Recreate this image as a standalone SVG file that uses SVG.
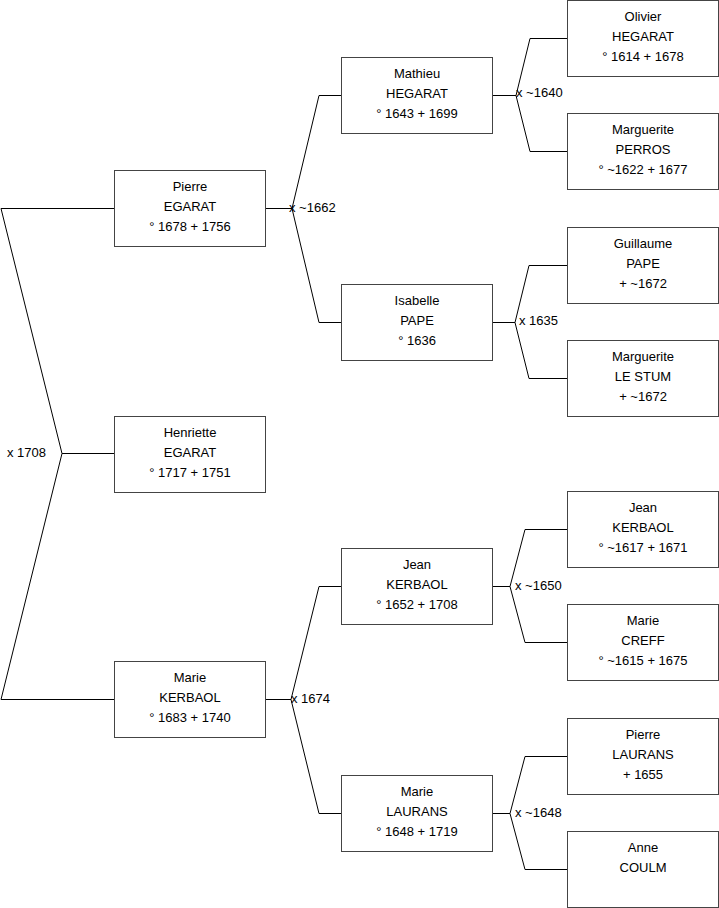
<svg xmlns="http://www.w3.org/2000/svg" width="719" height="908" viewBox="0 0 719 908">
<style>
.box{fill:#fff;stroke:#444;stroke-width:1}
.t{font-family:"Liberation Sans",Arial,sans-serif;font-size:13px;fill:#000;text-anchor:middle}
.l{font-family:"Liberation Sans",Arial,sans-serif;font-size:13px;fill:#000}
.c{fill:none;stroke:#000;stroke-width:1}
</style>
<rect width="719" height="908" fill="#fff"/>
<g id="connectors">
<path class="c" d="M114,208.5 H1 L62,453.5 L1,699.5 H114 M62,453.5 H114"/>
<path class="c" d="M265,208.5 H292 M341,95.5 H319 L292,208.5 L319,322.5 H341"/>
<path class="c" d="M265,699.5 H291 M341,586.5 H319 L291,699.5 L319,813.5 H341"/>
<path class="c" d="M492,95.5 H516 M567,38.5 H530 L516,95.5 L530,151.5 H567"/>
<path class="c" d="M492,322.5 H515 M567,265.5 H529 L515,322.5 L529,378.5 H567"/>
<path class="c" d="M492,586.5 H510 M567,529.5 H525 L510,586.5 L525,642.5 H567"/>
<path class="c" d="M492,813.5 H510 M567,756.5 H525 L510,813.5 L525,869.5 H567"/>
<text class="l" x="7" y="457">x 1708</text>
<text class="l" x="289" y="212">x ~1662</text>
<text class="l" x="291" y="703">x 1674</text>
<text class="l" x="516" y="97">x ~1640</text>
<text class="l" x="519" y="325">x 1635</text>
<text class="l" x="515" y="590">x ~1650</text>
<text class="l" x="515" y="817">x ~1648</text>
</g>
<g id="pierre-egarat"><rect class="box" x="114.5" y="170.5" width="151" height="76"/><text class="t" x="190" y="191">Pierre</text><text class="t" x="190" y="211">EGARAT</text><text class="t" x="190" y="231">° 1678 + 1756</text></g>
<g id="henriette-egarat"><rect class="box" x="114.5" y="416.5" width="151" height="76"/><text class="t" x="190" y="437">Henriette</text><text class="t" x="190" y="457">EGARAT</text><text class="t" x="190" y="477">° 1717 + 1751</text></g>
<g id="marie-kerbaol"><rect class="box" x="114.5" y="661.5" width="151" height="76"/><text class="t" x="190" y="682">Marie</text><text class="t" x="190" y="702">KERBAOL</text><text class="t" x="190" y="722">° 1683 + 1740</text></g>
<g id="mathieu-hegarat"><rect class="box" x="341.5" y="57.5" width="151" height="76"/><text class="t" x="417" y="78">Mathieu</text><text class="t" x="417" y="98">HEGARAT</text><text class="t" x="417" y="118">° 1643 + 1699</text></g>
<g id="isabelle-pape"><rect class="box" x="341.5" y="284.5" width="151" height="76"/><text class="t" x="417" y="305">Isabelle</text><text class="t" x="417" y="325">PAPE</text><text class="t" x="417" y="345">° 1636</text></g>
<g id="jean-kerbaol-1652"><rect class="box" x="341.5" y="548.5" width="151" height="76"/><text class="t" x="417" y="569">Jean</text><text class="t" x="417" y="589">KERBAOL</text><text class="t" x="417" y="609">° 1652 + 1708</text></g>
<g id="marie-laurans"><rect class="box" x="341.5" y="775.5" width="151" height="76"/><text class="t" x="417" y="796">Marie</text><text class="t" x="417" y="816">LAURANS</text><text class="t" x="417" y="836">° 1648 + 1719</text></g>
<g id="olivier-hegarat"><rect class="box" x="567.5" y="0.5" width="151" height="76"/><text class="t" x="643" y="21">Olivier</text><text class="t" x="643" y="41">HEGARAT</text><text class="t" x="643" y="61">° 1614 + 1678</text></g>
<g id="marguerite-perros"><rect class="box" x="567.5" y="113.5" width="151" height="76"/><text class="t" x="643" y="134">Marguerite</text><text class="t" x="643" y="154">PERROS</text><text class="t" x="643" y="174">° ~1622 + 1677</text></g>
<g id="guillaume-pape"><rect class="box" x="567.5" y="227.5" width="151" height="76"/><text class="t" x="643" y="248">Guillaume</text><text class="t" x="643" y="268">PAPE</text><text class="t" x="643" y="288">+ ~1672</text></g>
<g id="marguerite-le-stum"><rect class="box" x="567.5" y="340.5" width="151" height="76"/><text class="t" x="643" y="361">Marguerite</text><text class="t" x="643" y="381">LE STUM</text><text class="t" x="643" y="401">+ ~1672</text></g>
<g id="jean-kerbaol-1617"><rect class="box" x="567.5" y="491.5" width="151" height="76"/><text class="t" x="643" y="512">Jean</text><text class="t" x="643" y="532">KERBAOL</text><text class="t" x="643" y="552">° ~1617 + 1671</text></g>
<g id="marie-creff"><rect class="box" x="567.5" y="604.5" width="151" height="76"/><text class="t" x="643" y="625">Marie</text><text class="t" x="643" y="645">CREFF</text><text class="t" x="643" y="665">° ~1615 + 1675</text></g>
<g id="pierre-laurans"><rect class="box" x="567.5" y="718.5" width="151" height="76"/><text class="t" x="643" y="739">Pierre</text><text class="t" x="643" y="759">LAURANS</text><text class="t" x="643" y="779">+ 1655</text></g>
<g id="anne-coulm"><rect class="box" x="567.5" y="831.5" width="151" height="76"/><text class="t" x="643" y="852">Anne</text><text class="t" x="643" y="872">COULM</text></g>
</svg>
